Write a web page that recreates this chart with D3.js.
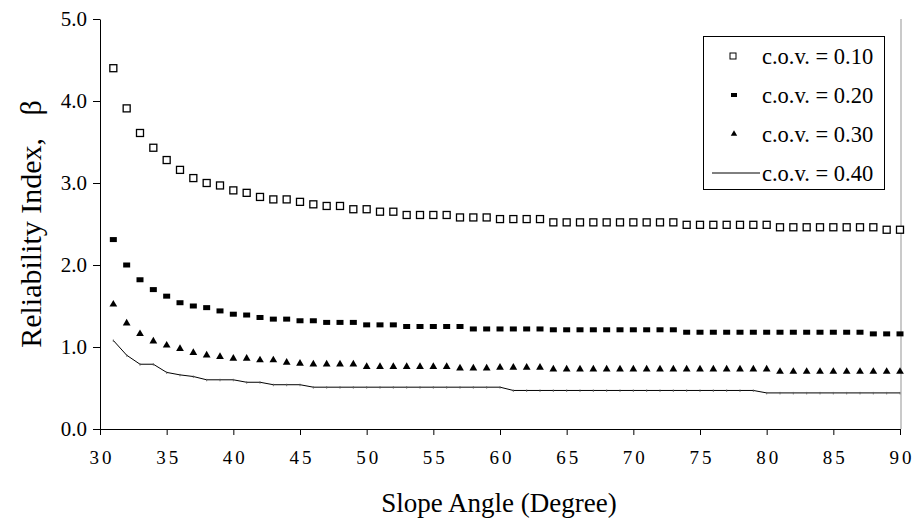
<!DOCTYPE html>
<html>
<head>
<meta charset="utf-8">
<script src="https://cdn.jsdelivr.net/npm/d3@7"></script>
<style>
  html, body { margin: 0; padding: 0; background: #fff; }
  svg { display: block; font-family: "Liberation Serif", "Times New Roman", serif; }
</style>
</head>
<body>
<svg id="chart" width="915" height="519"></svg>
<script>
// ---- data ----
const angles = [31,32,33,34,35,36,37,38,39,40,41,42,43,44,45,46,47,48,49,50,
                51,52,53,54,55,56,57,58,59,60,61,62,63,64,65,66,67,68,69,70,
                71,72,73,74,75,76,77,78,79,80,81,82,83,84,85,86,87,88,89,90];
const cov10 = [4.40,3.91,3.61,3.43,3.28,3.16,3.06,3.00,2.97,2.91,2.88,2.83,2.80,2.80,2.77,2.74,2.72,2.72,2.68,2.68,
               2.65,2.65,2.61,2.61,2.61,2.61,2.58,2.58,2.58,2.56,2.56,2.56,2.56,2.52,2.52,2.52,2.52,2.52,2.52,2.52,
               2.52,2.52,2.52,2.49,2.49,2.49,2.49,2.49,2.49,2.49,2.46,2.46,2.46,2.46,2.46,2.46,2.46,2.46,2.43,2.43];
const cov20 = [2.31,2.00,1.82,1.70,1.62,1.54,1.50,1.48,1.44,1.40,1.39,1.36,1.34,1.34,1.32,1.32,1.30,1.30,1.30,1.27,
               1.27,1.27,1.25,1.25,1.25,1.25,1.25,1.22,1.22,1.22,1.22,1.22,1.22,1.21,1.21,1.21,1.21,1.21,1.21,1.21,
               1.21,1.21,1.21,1.18,1.18,1.18,1.18,1.18,1.18,1.18,1.18,1.18,1.18,1.18,1.18,1.18,1.18,1.16,1.16,1.16];
const cov30 = [1.52,1.29,1.16,1.07,1.02,0.98,0.93,0.90,0.88,0.86,0.86,0.84,0.84,0.81,0.80,0.79,0.79,0.79,0.79,0.76,
               0.76,0.76,0.76,0.76,0.76,0.76,0.74,0.74,0.74,0.75,0.75,0.75,0.75,0.73,0.73,0.73,0.73,0.73,0.73,0.73,
               0.73,0.73,0.73,0.73,0.73,0.73,0.73,0.73,0.73,0.73,0.70,0.70,0.70,0.70,0.70,0.70,0.70,0.70,0.70,0.70];
const cov40 = [1.08,0.90,0.79,0.79,0.69,0.66,0.64,0.60,0.60,0.60,0.57,0.57,0.54,0.54,0.54,0.51,0.51,0.51,0.51,0.51,
               0.51,0.51,0.51,0.51,0.51,0.51,0.51,0.51,0.51,0.51,0.47,0.47,0.47,0.47,0.47,0.47,0.47,0.47,0.47,0.47,
               0.47,0.47,0.47,0.47,0.47,0.47,0.47,0.47,0.47,0.44,0.44,0.44,0.44,0.44,0.44,0.44,0.44,0.44,0.44,0.44];
const seriesNames = ["c.o.v. = 0.10","c.o.v. = 0.20","c.o.v. = 0.30","c.o.v. = 0.40"];
const xTicks = [30,35,40,45,50,55,60,65,70,75,80,85,90];
const yTicks = [0,1,2,3,4,5];
const xTitle = "Slope Angle (Degree)";
const yTitle = "Reliability Index,   \u03B2";

// ---- layout ----
const svg = d3.select("#chart");
const x = d3.scaleLinear().domain([30, 90]).range([100, 900]);
const y = d3.scaleLinear().domain([0, 5]).range([429, 19]);

// right border of plot area
svg.append("line").attr("x1", 901).attr("x2", 901).attr("y1", 19).attr("y2", 429)
  .attr("stroke", "#b8b8b8").attr("stroke-width", 1.5);

// axes
const yAxis = svg.append("g").attr("transform", "translate(100,0)")
  .call(d3.axisLeft(y).tickValues(yTicks).tickFormat(d3.format(".1f")).tickSize(7).tickPadding(6).tickSizeOuter(0));
yAxis.attr("font-family", null).attr("font-size", null);
yAxis.selectAll("text").attr("font-size", 21).attr("fill", "#000");
yAxis.selectAll("line").attr("stroke", "#000");
yAxis.select(".domain").attr("stroke", "#000");

const xAxis = svg.append("g").attr("transform", "translate(0,429)")
  .call(d3.axisBottom(x).tickValues(xTicks).tickSize(6).tickPadding(16).tickSizeOuter(0));
xAxis.attr("font-family", null).attr("font-size", null);
xAxis.selectAll("text").attr("font-size", 19)
  .attr("fill", "#000").attr("letter-spacing", "3px").attr("dx", "1.5px");
xAxis.selectAll("line").attr("stroke", "#000");
xAxis.select(".domain").attr("stroke", "#000");

// titles
svg.append("text").attr("x", 499).attr("y", 512).attr("text-anchor", "middle")
  .attr("font-size", 27).text(xTitle);
svg.append("text").attr("transform", "translate(41,224) rotate(-90)").attr("text-anchor", "middle")
  .attr("font-size", 30).attr("xml:space", "preserve").style("white-space", "pre").text(yTitle);

const pts = (vals) => angles.map((a, i) => ({a, v: vals[i]}));

// cov 0.40 line
const line = d3.line().x(d => x(d.a)).y(d => y(d.v));
svg.append("path").datum(pts(cov40)).attr("d", line)
  .attr("fill", "none").attr("stroke", "#000").attr("stroke-width", 1);
svg.append("g").selectAll("line").data(pts(cov40)).join("line")
  .attr("x1", d => x(d.a)).attr("x2", d => x(d.a))
  .attr("y1", d => y(d.v) - 1).attr("y2", d => y(d.v) + 1.5)
  .attr("stroke", "#555").attr("stroke-width", 0.8);

// cov 0.30 triangles
const tri = d3.symbol().type(d3.symbolTriangle).size(26);
svg.append("g").selectAll("path").data(pts(cov30)).join("path")
  .attr("transform", d => `translate(${x(d.a)},${y(d.v)})`).attr("d", tri).attr("fill", "#000");

// cov 0.20 filled dashes
svg.append("g").selectAll("rect").data(pts(cov20)).join("rect")
  .attr("x", d => x(d.a) - 3.5).attr("y", d => y(d.v) - 2.5)
  .attr("width", 7).attr("height", 5).attr("fill", "#000");

// cov 0.10 open squares
svg.append("g").selectAll("rect").data(pts(cov10)).join("rect")
  .attr("x", d => x(d.a) - 3.5).attr("y", d => y(d.v) - 3.5)
  .attr("width", 7).attr("height", 7).attr("fill", "#fff").attr("stroke", "#000").attr("stroke-width", 1.3);

// legend
const lg = svg.append("g");
lg.append("rect").attr("x", 703.5).attr("y", 36.5).attr("width", 181).attr("height", 153)
  .attr("fill", "#fff").attr("stroke", "#000").attr("stroke-width", 1);
const rowsY = [56, 95, 134, 173];
lg.selectAll("text").data(seriesNames).join("text")
  .attr("x", 762).attr("y", (d, i) => rowsY[i]).attr("dy", "0.35em")
  .attr("font-size", 22.5).text(d => d);
lg.append("rect").attr("x", 730).attr("y", rowsY[0] - 3).attr("width", 6).attr("height", 6)
  .attr("fill", "#fff").attr("stroke", "#000").attr("stroke-width", 1);
lg.append("rect").attr("x", 731).attr("y", rowsY[1] - 2).attr("width", 6).attr("height", 4).attr("fill", "#000");
lg.append("path").attr("transform", `translate(734,${rowsY[2]})`)
  .attr("d", d3.symbol().type(d3.symbolTriangle).size(18)).attr("fill", "#000");
lg.append("line").attr("x1", 712).attr("x2", 760).attr("y1", rowsY[3]).attr("y2", rowsY[3])
  .attr("stroke", "#000").attr("stroke-width", 1);
</script>
</body>
</html>
